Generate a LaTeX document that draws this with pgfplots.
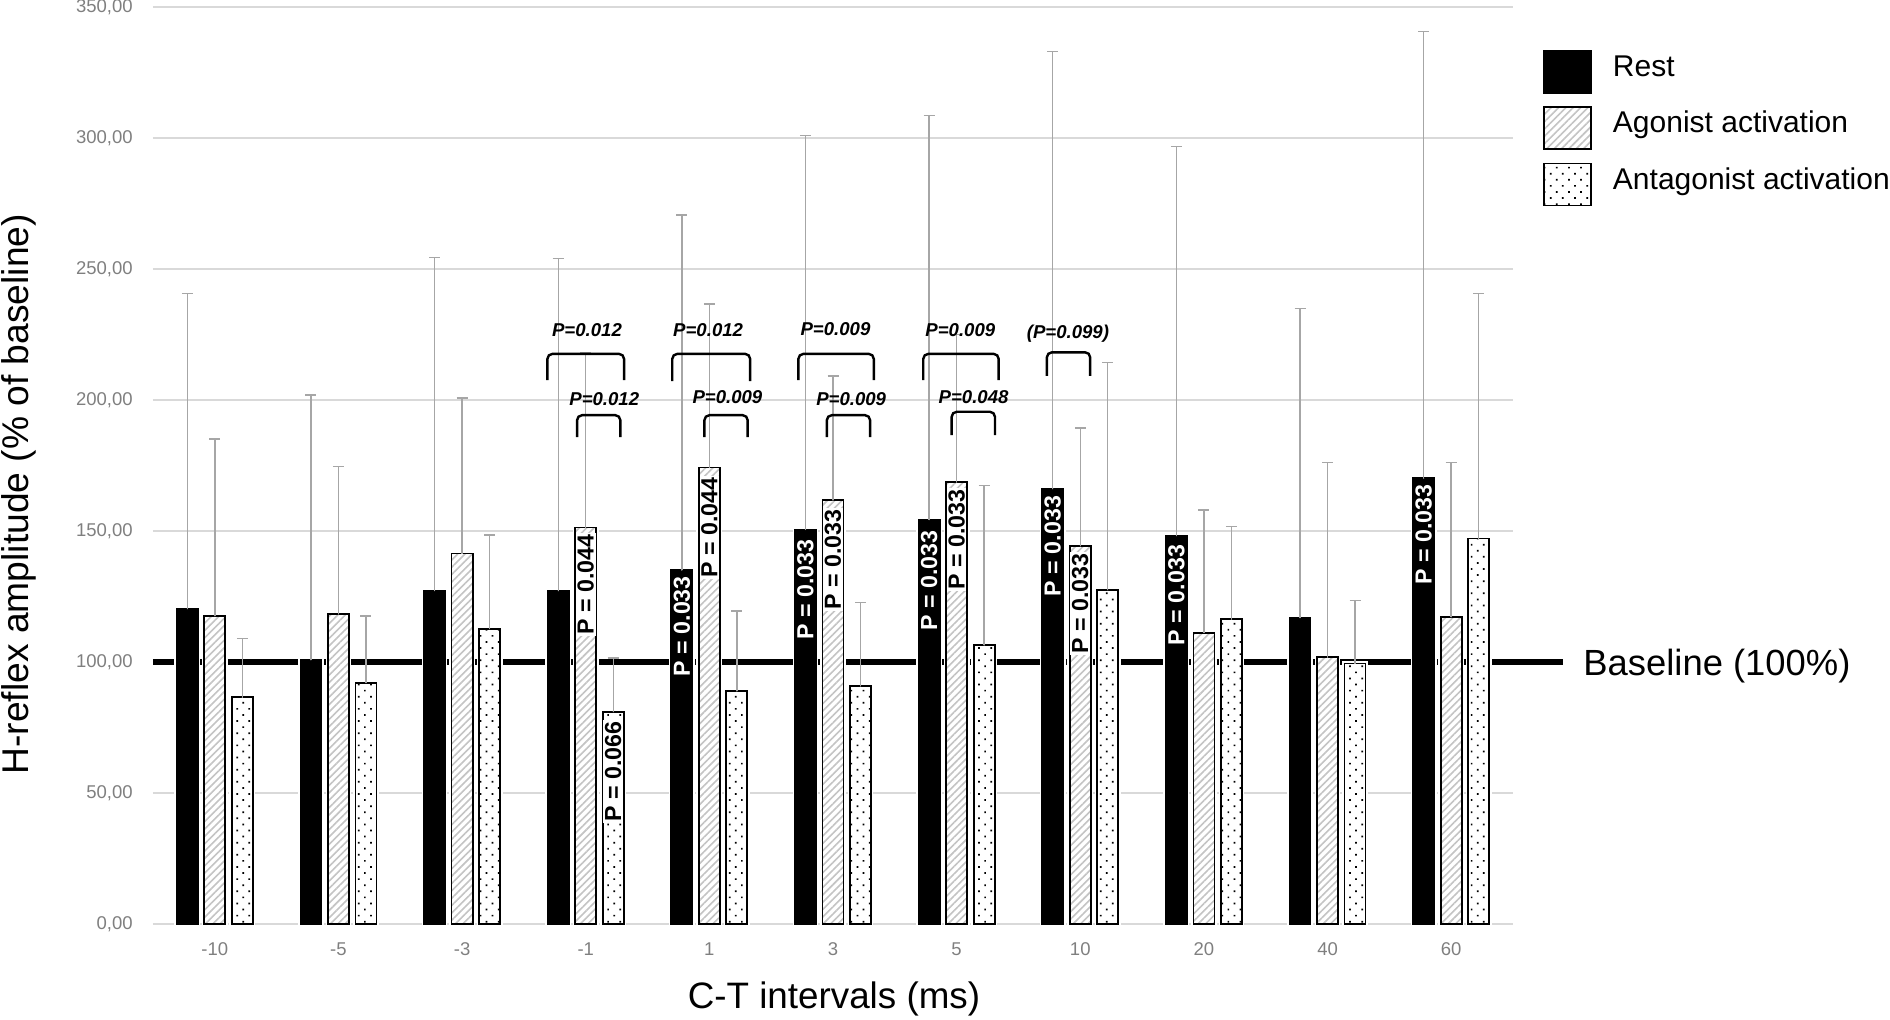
\documentclass[border=0pt]{standalone}
\usepackage{fontspec}
\setmainfont{Liberation Sans}
\usepackage{pgfplots}
\usepackage{pgfplotstable}
\pgfplotsset{compat=1.18}
\usetikzlibrary{patterns.meta}

\definecolor{gridgray}{HTML}{D9D9D9}
\definecolor{errgray}{HTML}{A6A6A6}
\definecolor{tickgray}{HTML}{7F7F7F}
\definecolor{hatchgray}{HTML}{C4C4C4}

% H-reflex amplitude (% of baseline): mean and SD for each C-T interval
\pgfplotstableread{
idx rest  restsd ago   agosd ant   antsd
0   120.3 120.3  117.6 67.5  86.5  22.5
1   100.8 101.1  118.3 56.3  92.1  25.5
2   127.2 127.3  141.4 59.4  112.7 35.7
3   127.2 126.7  151.3 66.7  81.0  20.5
4   135.0 135.6  174.2 62.5  88.9  30.6
5   150.6 150.4  161.7 47.5  90.8  31.9
6   154.3 154.2  168.6 56.4  106.4 60.9
7   166.1 166.8  144.3 45.0  127.5 86.9
8   148.2 148.6  111.2 46.8  116.3 35.5
9   116.9 118.0  101.8 74.3  99.4  24.0
10  170.1 170.6  117.2 59.0  147.1 93.5
}\ctdata

\tikzset{
  halo/.style={preaction={draw=white, fill=white, line width=2.4pt}},
  restbar/.style={halo, fill=black, draw=black, line width=0.9pt},
  agobar/.style={halo, draw=black, line width=0.9pt,
    pattern={Lines[angle=45,distance=2.6pt,line width=0.8pt]}, pattern color=hatchgray},
  antbar/.style={halo, draw=black, line width=0.9pt,
    pattern={Dots[angle=45,distance=4.3pt,radius=0.6pt]}, pattern color=black},
  pin/.style={rotate=90, anchor=east, inner sep=0.8pt,
    font=\bfseries\fontsize{11.6}{13}\selectfont},
  pwhite/.style={pin, text=white},
  pblack/.style={pin, text=black, fill=white},
  plab/.style={font=\bfseries\itshape\fontsize{9.3}{11}\selectfont, inner sep=0pt},
  brk/.style={line width=1.2pt, rounded corners=2.5pt},
}
\pgfplotsset{
  sd/.style={forget plot, color=errgray, only marks, mark=*, mark size=0.01pt,
    error bars/.cd, y dir=plus, y explicit, error mark=-,
    error bar style={color=errgray, line width=0.7pt, solid},
    error mark options={color=errgray, line width=0.7pt, mark size=2.75pt, rotate=90, solid}},
}
% significance bracket: x-left, x-right, y-top, y-leg
\newcommand{\bracket}[4]{\draw[brk] (axis cs:#1,#4) |- (axis cs:#2,#3) -- (axis cs:#2,#4);}

\begin{document}
\begin{tikzpicture}
\path[use as bounding box] (-76.5pt,-47.5pt) rectangle (868.5pt,462pt);
\begin{axis}[
  at={(0pt,0pt)}, anchor=south west,
  scale only axis, width=680pt, height=458.5pt,
  xmin=-0.5, xmax=10.5, ymin=0, ymax=350,
  enlargelimits=false, clip=false,
  xtick={0,...,10},
  xticklabels={-10,-5,-3,-1,1,3,5,10,20,40,60},
  ytick={0,50,...,350},
  axis line style={draw=none},
  major tick length=0pt,
  ymajorgrids, grid style={draw=gridgray, line width=1pt},
  tick label style={font=\fontsize{9.25}{11}\selectfont, text=tickgray},
  /pgf/number format/assume math mode=true,
  /pgf/number format/fixed,
  /pgf/number format/fixed zerofill,
  /pgf/number format/precision=2,
  /pgf/number format/use comma,
  /pgf/number format/1000 sep={},
  yticklabel style={anchor=east, inner sep=0pt, xshift=-10pt},
  xticklabel style={anchor=north, inner sep=0pt, yshift=-9.3pt},
  xlabel={C-T intervals (ms)},
  xlabel style={at={(axis description cs:0.5007,-0.0818)}, anchor=center,
    font=\fontsize{18.4}{22}\selectfont},
  ylabel={H-reflex amplitude (\% of baseline)},
  ylabel style={at={(axis description cs:-0.0915,0.4687)}, anchor=base,
    font=\fontsize{18.6}{22}\selectfont},
  legend style={draw=none, fill=none, inner sep=0pt, outer sep=0pt,
    at={(axis description cs:1.0213,0.955)}, anchor=north west,
    font=\fontsize{15}{17}\selectfont, row sep=4.8pt,
    nodes={inner sep=0pt, anchor=base west}},
  legend image code/.code={\draw[#1] (0pt,-8.05pt) rectangle (23.5pt,12.95pt); \path (33.1pt,0pt);},
]
% baseline reference line at 100 %
\draw[line width=3.3pt] (axis cs:-0.5,100) -- ([xshift=24.9pt]axis cs:10.5,100);
\node[anchor=base west, inner sep=0pt, font=\fontsize{18.2}{22}\selectfont]
  at ([xshift=35pt,yshift=-6.5pt]axis cs:10.5,100) {Baseline (100\%)};

\addplot[ybar, bar width=0.17, bar shift=-0.2225, restbar] table[x=idx, y=rest] {\ctdata};
\addlegendentry{Rest}
\addplot[ybar, bar width=0.17, bar shift=0, agobar] table[x=idx, y=ago] {\ctdata};
\addlegendentry{Agonist activation}
\addplot[ybar, bar width=0.17, bar shift=0.2225, antbar] table[x=idx, y=ant] {\ctdata};
\addlegendentry{Antagonist activation}

% SD error bars (upper half only)
\addplot[sd] table[x expr=\thisrow{idx}-0.2225, y=rest, y error=restsd] {\ctdata};
\addplot[sd] table[x=idx, y=ago, y error=agosd] {\ctdata};
\addplot[sd] table[x expr=\thisrow{idx}+0.2225, y=ant, y error=antsd] {\ctdata};

% p-values inside the bars
\node[pblack] at (axis cs:3,149.5) {P = 0.044};
\node[pblack] at (axis cs:3.2225,78) {P = 0.066};
\node[pwhite] at (axis cs:3.7775,133.5) {P = 0.033};
\node[pblack] at (axis cs:4,171.2) {P = 0.044};
\node[pwhite] at (axis cs:4.7775,147.6) {P = 0.033};
\node[pblack] at (axis cs:5,158.9) {P = 0.033};
\node[pwhite] at (axis cs:5.7775,151) {P = 0.033};
\node[pblack] at (axis cs:6,166.6) {P = 0.033};
\node[pwhite] at (axis cs:6.7775,164.1) {P = 0.033};
\node[pblack] at (axis cs:7,142.1) {P = 0.033};
\node[pwhite] at (axis cs:7.7775,145.4) {P = 0.033};
\node[pwhite] at (axis cs:9.7775,168.4) {P = 0.033};

% pairwise comparisons
\bracket{2.69}{3.31}{217.6}{207.6}
\node[plab] at (axis cs:3.01,226.5) {P=0.012};
\bracket{2.93}{3.28}{194.2}{185.8}
\node[plab] at (axis cs:3.15,200.3) {P=0.012};

\bracket{3.70}{4.33}{217.6}{207.2}
\node[plab] at (axis cs:3.99,226.5) {P=0.012};
\bracket{3.96}{4.31}{194.2}{185.8}
\node[plab] at (axis cs:4.146,201) {P=0.009};

\bracket{4.72}{5.33}{217.6}{207.6}
\node[plab] at (axis cs:5.02,227) {P=0.009};
\bracket{4.95}{5.30}{194.2}{185.8}
\node[plab] at (axis cs:5.147,200.3) {P=0.009};

\bracket{5.73}{6.34}{217.6}{207.6}
\node[plab] at (axis cs:6.03,226.5) {P=0.009};
\bracket{5.96}{6.31}{195.5}{186.6}
\node[plab] at (axis cs:6.137,201) {P=0.048};

\bracket{6.73}{7.08}{218.2}{209.2}
\node[plab] at (axis cs:6.90,225.4) {(P=0.099)};
\end{axis}
\end{tikzpicture}
\end{document}
